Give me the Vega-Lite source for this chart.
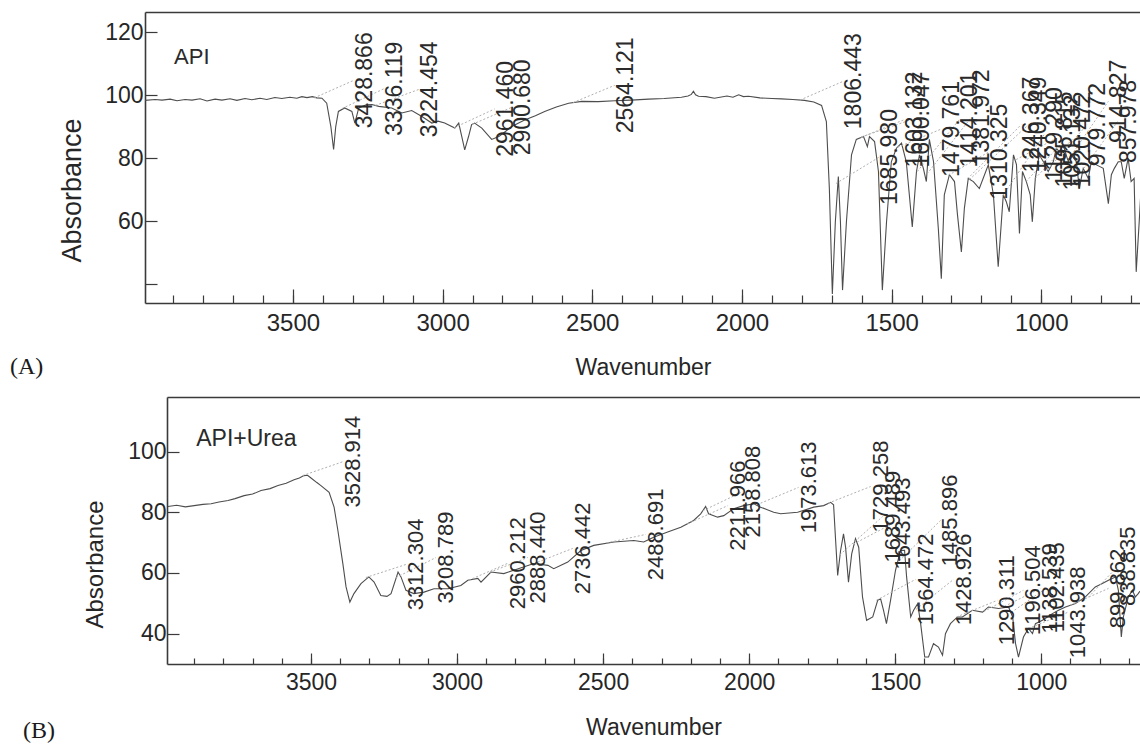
{
  "$schema": "https://vega.github.io/schema/vega-lite/v6.json",
  "padding": {"left": 10, "top": 12, "right": 0, "bottom": 0},
  "background": "white",
  "config": {
    "view": {"stroke": null},
    "axis": {"grid": false, "labelFont": "Liberation Sans", "titleFont": "Liberation Sans", "labelColor": "#262626", "titleColor": "#262626", "titleFontWeight": "normal", "domainColor": "#3a3a3a", "tickColor": "#3a3a3a", "domainWidth": 1.6, "tickWidth": 1.2, "labelOverlap": false},
    "text": {"font": "Liberation Sans", "color": "#2a2a2a"},
    "title": {"font": "Liberation Serif", "fontWeight": "normal", "color": "#1a1a1a", "fontSize": 24, "anchor": "start", "orient": "bottom"}
  },
  "spacing": 18,
  "vconcat": [
    {
      "spacing": 14,
      "hconcat": [
        {"width": 1, "height": 291, "data": {"values": [{"t": ""}]}, "mark": {"type": "text"}, "encoding": {"text": {"field": "t"}}, "title": {"text": "(A)", "orient": "bottom", "anchor": "start", "offset": 52}},
        {
          "width": 996, "height": 291,
          "resolve": {"axis": {"x": "independent"}},
          "layer": [
            {
              "data": {"name": "specA"},
              "mark": {"type": "line", "color": "#4d4d4d", "strokeWidth": 1.1, "clip": true},
              "encoding": {
                "x": {"field": "wn", "type": "quantitative", "scale": {"domain": [3994, 667], "nice": false, "zero": false},
                  "axis": {"orient": "bottom", "values": [3500, 3000, 2500, 2000, 1500, 1000], "format": "d", "tickSize": -14, "labelFontSize": 24, "labelPadding": 22, "title": "Wavenumber", "titleFontSize": 23, "titlePadding": 21}},
                "y": {"field": "v", "type": "quantitative", "title": "Absorbance", "scale": {"domain": [34, 126.5], "nice": false, "zero": false},
                  "axis": {"values": [40, 60, 80, 100, 120], "format": "d", "tickSize": -12, "labelFontSize": 23, "labelPadding": 14, "labelExpr": "datum.value == 40 ? '' : datum.label", "title": "Absorbance", "titleFontSize": 27, "titlePadding": 18, "titleY": 178}}
              }
            },
            {
              "data": {"name": "labA"},
              "mark": {"type": "rule", "color": "#b0b0b0", "strokeWidth": 1, "strokeDash": [2, 2], "clip": true},
              "encoding": {
                "x": {"field": "wn", "type": "quantitative", "scale": {"domain": [3994, 667], "nice": false, "zero": false},
                  "axis": {"orient": "bottom", "values": [3900, 3800, 3700, 3600, 3500, 3400, 3300, 3200, 3100, 3000, 2900, 2800, 2700, 2600, 2500, 2400, 2300, 2200, 2100, 2000, 1900, 1800, 1700, 1600, 1500, 1400, 1300, 1200, 1100, 1000, 900, 800, 700], "tickSize": -8, "labels": false, "domain": false, "title": null}},
                "x2": {"field": "lx"},
                "y": {"field": "yp", "type": "quantitative", "title": "Absorbance", "scale": {"domain": [34, 126.5], "nice": false, "zero": false},
                  "axis": {"values": [40, 60, 80, 100, 120], "format": "d", "tickSize": -12, "labelFontSize": 23, "labelPadding": 14, "labelExpr": "datum.value == 40 ? '' : datum.label", "title": "Absorbance", "titleFontSize": 27, "titlePadding": 18, "titleY": 178}},
                "y2": {"field": "ly"}
              }
            },
            {
              "data": {"name": "labA"},
              "mark": {"type": "text", "angle": 270, "align": "center", "baseline": "top", "fontSize": 23, "clip": true},
              "encoding": {
                "x": {"field": "lx", "type": "quantitative", "scale": {"domain": [3994, 667], "nice": false, "zero": false},
                  "axis": {"orient": "top", "ticks": false, "labels": false, "domain": true, "title": null}},
                "y": {"field": "ly", "type": "quantitative", "title": "Absorbance", "scale": {"domain": [34, 126.5], "nice": false, "zero": false},
                  "axis": {"values": [40, 60, 80, 100, 120], "format": "d", "tickSize": -12, "labelFontSize": 23, "labelPadding": 14, "labelExpr": "datum.value == 40 ? '' : datum.label", "title": "Absorbance", "titleFontSize": 27, "titlePadding": 18, "titleY": 178}},
                "text": {"field": "label"}
              }
            },
            {
              "data": {"name": "nameA"},
              "mark": {"type": "text", "align": "left", "baseline": "alphabetic", "fontSize": 22},
              "encoding": {
                "x": {"field": "wn", "type": "quantitative", "scale": {"domain": [3994, 667], "nice": false, "zero": false}, "axis": null},
                "y": {"field": "v", "type": "quantitative", "title": "Absorbance", "scale": {"domain": [34, 126.5], "nice": false, "zero": false},
                  "axis": {"values": [40, 60, 80, 100, 120], "format": "d", "tickSize": -12, "labelFontSize": 23, "labelPadding": 14, "labelExpr": "datum.value == 40 ? '' : datum.label", "title": "Absorbance", "titleFontSize": 27, "titlePadding": 18, "titleY": 178}},
                "text": {"field": "name"}
              }
            }
          ]
        }
      ]
    },
    {
      "spacing": 28,
      "hconcat": [
        {"width": 1, "height": 267, "data": {"values": [{"t": ""}]}, "mark": {"type": "text"}, "encoding": {"text": {"field": "t"}}, "title": {"text": "(B)", "orient": "bottom", "anchor": "start", "offset": 55, "dx": 13}},
        {
          "width": 973, "height": 267,
          "resolve": {"axis": {"x": "independent"}},
          "layer": [
            {
              "data": {"name": "specB"},
              "mark": {"type": "line", "color": "#4d4d4d", "strokeWidth": 1.1, "clip": true},
              "encoding": {
                "x": {"field": "wn", "type": "quantitative", "scale": {"domain": [3993, 662], "nice": false, "zero": false},
                  "axis": {"orient": "bottom", "values": [3500, 3000, 2500, 2000, 1500, 1000], "format": "d", "tickSize": -11, "labelFontSize": 23, "labelPadding": 18, "title": "Wavenumber", "titleFontSize": 23, "titlePadding": 22}},
                "y": {"field": "v", "type": "quantitative", "title": "Absorbance", "scale": {"domain": [30, 118], "nice": false, "zero": false},
                  "axis": {"values": [40, 60, 80, 100], "format": "d", "tickSize": -12, "labelFontSize": 23, "labelPadding": 13, "title": "Absorbance", "titleFontSize": 24, "titlePadding": 20, "titleY": 167}}
              }
            },
            {
              "data": {"name": "labB"},
              "mark": {"type": "rule", "color": "#b0b0b0", "strokeWidth": 1, "strokeDash": [2, 2], "clip": true},
              "encoding": {
                "x": {"field": "wn", "type": "quantitative", "scale": {"domain": [3993, 662], "nice": false, "zero": false},
                  "axis": {"orient": "bottom", "values": [3900, 3800, 3700, 3600, 3500, 3400, 3300, 3200, 3100, 3000, 2900, 2800, 2700, 2600, 2500, 2400, 2300, 2200, 2100, 2000, 1900, 1800, 1700, 1600, 1500, 1400, 1300, 1200, 1100, 1000, 900, 800, 700], "tickSize": -6, "labels": false, "domain": false, "title": null}},
                "x2": {"field": "lx"},
                "y": {"field": "yp", "type": "quantitative", "title": "Absorbance", "scale": {"domain": [30, 118], "nice": false, "zero": false},
                  "axis": {"values": [40, 60, 80, 100], "format": "d", "tickSize": -12, "labelFontSize": 23, "labelPadding": 13, "title": "Absorbance", "titleFontSize": 24, "titlePadding": 20, "titleY": 167}},
                "y2": {"field": "ly"}
              }
            },
            {
              "data": {"name": "labB"},
              "mark": {"type": "text", "angle": 270, "align": "center", "baseline": "top", "fontSize": 22, "clip": true},
              "encoding": {
                "x": {"field": "lx", "type": "quantitative", "scale": {"domain": [3993, 662], "nice": false, "zero": false},
                  "axis": {"orient": "top", "ticks": false, "labels": false, "domain": true, "title": null}},
                "y": {"field": "ly", "type": "quantitative", "title": "Absorbance", "scale": {"domain": [30, 118], "nice": false, "zero": false},
                  "axis": {"values": [40, 60, 80, 100], "format": "d", "tickSize": -12, "labelFontSize": 23, "labelPadding": 13, "title": "Absorbance", "titleFontSize": 24, "titlePadding": 20, "titleY": 167}},
                "text": {"field": "label"}
              }
            },
            {
              "data": {"name": "nameB"},
              "mark": {"type": "text", "align": "left", "baseline": "alphabetic", "fontSize": 23},
              "encoding": {
                "x": {"field": "wn", "type": "quantitative", "scale": {"domain": [3993, 662], "nice": false, "zero": false}, "axis": null},
                "y": {"field": "v", "type": "quantitative", "title": "Absorbance", "scale": {"domain": [30, 118], "nice": false, "zero": false},
                  "axis": {"values": [40, 60, 80, 100], "format": "d", "tickSize": -12, "labelFontSize": 23, "labelPadding": 13, "title": "Absorbance", "titleFontSize": 24, "titlePadding": 20, "titleY": 167}},
                "text": {"field": "name"}
              }
            }
          ]
        }
      ]
    }
  ],
  "datasets": {
    "nameA": [{"name": "API", "wn": 3897, "v": 109.9}],
    "nameB": [{"name": "API+Urea", "wn": 3893, "v": 102}],
    "specA": [
      {"wn": 3994, "v": 98.4}, {"wn": 3960, "v": 98.7}, {"wn": 3937, "v": 98.5}, {"wn": 3910, "v": 98.8}, {"wn": 3887, "v": 98.3}, {"wn": 3860, "v": 98.7}, {"wn": 3837, "v": 98.5}, {"wn": 3810, "v": 98.9}, {"wn": 3787, "v": 98.2}, {"wn": 3760, "v": 98.8}, {"wn": 3737, "v": 98.5}, {"wn": 3710, "v": 98.9}, {"wn": 3687, "v": 98.4}, {"wn": 3660, "v": 99.0}, {"wn": 3637, "v": 98.6}, {"wn": 3610, "v": 99.1}, {"wn": 3587, "v": 98.7}, {"wn": 3560, "v": 99.3}, {"wn": 3537, "v": 99.0}, {"wn": 3510, "v": 99.4}, {"wn": 3487, "v": 99.1}, {"wn": 3470, "v": 99.6}, {"wn": 3453, "v": 99.3}, {"wn": 3435, "v": 99.6}, {"wn": 3420, "v": 99.2}, {"wn": 3403, "v": 99.1}, {"wn": 3387, "v": 97.5}, {"wn": 3373, "v": 90}, {"wn": 3364, "v": 82.8}, {"wn": 3357, "v": 90}, {"wn": 3348, "v": 94.9}, {"wn": 3327, "v": 96}, {"wn": 3303, "v": 94.9}, {"wn": 3293, "v": 91.2}, {"wn": 3280, "v": 96}, {"wn": 3255, "v": 97.0}, {"wn": 3236, "v": 97.1}, {"wn": 3213, "v": 96.5}, {"wn": 3170, "v": 96}, {"wn": 3136, "v": 94.4}, {"wn": 3103, "v": 95.2}, {"wn": 3069, "v": 93.3}, {"wn": 3036, "v": 91.2}, {"wn": 3015, "v": 91.8}, {"wn": 2993, "v": 91.2}, {"wn": 2959, "v": 89.6}, {"wn": 2946, "v": 91.2}, {"wn": 2936, "v": 87}, {"wn": 2926, "v": 82.7}, {"wn": 2913, "v": 87}, {"wn": 2903, "v": 90.7}, {"wn": 2893, "v": 91.2}, {"wn": 2869, "v": 89.6}, {"wn": 2836, "v": 86.0}, {"wn": 2812, "v": 86.9}, {"wn": 2790, "v": 88.5}, {"wn": 2769, "v": 90.1}, {"wn": 2726, "v": 92.2}, {"wn": 2690, "v": 93.5}, {"wn": 2659, "v": 94.9}, {"wn": 2620, "v": 96.3}, {"wn": 2579, "v": 97.5}, {"wn": 2535, "v": 98.1}, {"wn": 2480, "v": 98.0}, {"wn": 2425, "v": 98.3}, {"wn": 2370, "v": 98.5}, {"wn": 2312, "v": 98.8}, {"wn": 2260, "v": 99.0}, {"wn": 2202, "v": 99.4}, {"wn": 2180, "v": 99.8}, {"wn": 2169, "v": 100.3}, {"wn": 2162, "v": 101.3}, {"wn": 2155, "v": 100.2}, {"wn": 2145, "v": 99.7}, {"wn": 2120, "v": 99.6}, {"wn": 2092, "v": 99.1}, {"wn": 2050, "v": 99.8}, {"wn": 2030, "v": 99.4}, {"wn": 2011, "v": 100.2}, {"wn": 1995, "v": 99.6}, {"wn": 1978, "v": 99.7}, {"wn": 1940, "v": 99.2}, {"wn": 1900, "v": 99.0}, {"wn": 1868, "v": 98.9}, {"wn": 1830, "v": 98.7}, {"wn": 1791, "v": 98.4}, {"wn": 1760, "v": 97.9}, {"wn": 1734, "v": 96.8}, {"wn": 1718, "v": 91.7}, {"wn": 1708, "v": 70.4}, {"wn": 1698, "v": 36.9}, {"wn": 1688, "v": 59.8}, {"wn": 1678, "v": 74.2}, {"wn": 1671, "v": 59.8}, {"wn": 1664, "v": 38.1}, {"wn": 1651, "v": 59.8}, {"wn": 1634, "v": 81.1}, {"wn": 1618, "v": 86}, {"wn": 1594, "v": 86.9}, {"wn": 1581, "v": 83.7}, {"wn": 1574, "v": 86.9}, {"wn": 1557, "v": 85.3}, {"wn": 1544, "v": 75.8}, {"wn": 1531, "v": 38.1}, {"wn": 1517, "v": 59.8}, {"wn": 1501, "v": 78.9}, {"wn": 1484, "v": 83.2}, {"wn": 1467, "v": 84.8}, {"wn": 1451, "v": 78.9}, {"wn": 1431, "v": 58.2}, {"wn": 1417, "v": 75.8}, {"wn": 1407, "v": 81.1}, {"wn": 1394, "v": 76.8}, {"wn": 1384, "v": 72.6}, {"wn": 1374, "v": 86}, {"wn": 1360, "v": 78.9}, {"wn": 1344, "v": 57.7}, {"wn": 1334, "v": 41.7}, {"wn": 1324, "v": 68.4}, {"wn": 1307, "v": 74.8}, {"wn": 1290, "v": 72.6}, {"wn": 1280, "v": 62}, {"wn": 1267, "v": 50.2}, {"wn": 1257, "v": 64.1}, {"wn": 1244, "v": 73.6}, {"wn": 1227, "v": 72.6}, {"wn": 1207, "v": 70.4}, {"wn": 1177, "v": 77.9}, {"wn": 1160, "v": 68.4}, {"wn": 1144, "v": 45.5}, {"wn": 1127, "v": 68.4}, {"wn": 1117, "v": 66.2}, {"wn": 1107, "v": 63}, {"wn": 1093, "v": 81.1}, {"wn": 1083, "v": 78}, {"wn": 1073, "v": 56.1}, {"wn": 1063, "v": 75.8}, {"wn": 1050, "v": 72.6}, {"wn": 1037, "v": 68.4}, {"wn": 1030, "v": 59.8}, {"wn": 1020, "v": 73.6}, {"wn": 1007, "v": 81.1}, {"wn": 993, "v": 78.9}, {"wn": 977, "v": 75.8}, {"wn": 960, "v": 78.9}, {"wn": 950, "v": 83.2}, {"wn": 940, "v": 82.1}, {"wn": 927, "v": 84.3}, {"wn": 910, "v": 78.9}, {"wn": 900, "v": 81.1}, {"wn": 883, "v": 78.9}, {"wn": 873, "v": 70.4}, {"wn": 860, "v": 76.8}, {"wn": 843, "v": 73.6}, {"wn": 833, "v": 78.9}, {"wn": 816, "v": 77.9}, {"wn": 793, "v": 76.8}, {"wn": 776, "v": 65.6}, {"wn": 766, "v": 74.8}, {"wn": 756, "v": 76.8}, {"wn": 743, "v": 78.9}, {"wn": 733, "v": 78.9}, {"wn": 723, "v": 73.6}, {"wn": 710, "v": 80}, {"wn": 700, "v": 72.6}, {"wn": 690, "v": 73.6}, {"wn": 683, "v": 43.9}, {"wn": 673, "v": 59.8}, {"wn": 667, "v": 70}
    ],
    "labA": [
      {"label": "3428.866", "wn": 3428.866, "yp": 99.2, "lx": 3296, "ly": 104.8},
      {"label": "3336.119", "wn": 3336.119, "yp": 95.8, "lx": 3196, "ly": 102.1},
      {"label": "3224.454", "wn": 3224.454, "yp": 96.8, "lx": 3079, "ly": 101.9},
      {"label": "2961.460", "wn": 2961.46, "yp": 89.7, "lx": 2826, "ly": 95.7},
      {"label": "2900.680", "wn": 2900.68, "yp": 90.8, "lx": 2769, "ly": 96.2},
      {"label": "2564.121", "wn": 2564.121, "yp": 97.7, "lx": 2425, "ly": 103.2},
      {"label": "1806.443", "wn": 1806.443, "yp": 98.5, "lx": 1661, "ly": 104.5},
      {"label": "1685.980", "wn": 1685.98, "yp": 72, "lx": 1541, "ly": 80.4},
      {"label": "1603.132", "wn": 1603.132, "yp": 86.6, "lx": 1457, "ly": 92.3},
      {"label": "1600.047", "wn": 1600.047, "yp": 86.8, "lx": 1434, "ly": 92.3},
      {"label": "1479.761", "wn": 1479.761, "yp": 83.5, "lx": 1334, "ly": 89.3},
      {"label": "1414.201", "wn": 1414.201, "yp": 75.8, "lx": 1274, "ly": 92.3},
      {"label": "1381.972", "wn": 1381.972, "yp": 75, "lx": 1234, "ly": 93},
      {"label": "1310.325", "wn": 1310.325, "yp": 74.6, "lx": 1174, "ly": 82.1},
      {"label": "1246.367", "wn": 1246.367, "yp": 73.5, "lx": 1067, "ly": 90.7},
      {"label": "1240.349", "wn": 1240.349, "yp": 73.2, "lx": 1043, "ly": 90.7},
      {"label": "1129.290", "wn": 1129.29, "yp": 68, "lx": 990, "ly": 87.6},
      {"label": "1095.815", "wn": 1095.815, "yp": 79, "lx": 957, "ly": 86},
      {"label": "1051.132", "wn": 1051.132, "yp": 72.6, "lx": 930, "ly": 85},
      {"label": "1020.472", "wn": 1020.472, "yp": 73.6, "lx": 897, "ly": 86},
      {"label": "979.772", "wn": 979.772, "yp": 76.3, "lx": 847, "ly": 90.7},
      {"label": "914.827", "wn": 914.827, "yp": 78.9, "lx": 776, "ly": 98.1},
      {"label": "857.978", "wn": 857.978, "yp": 76.8, "lx": 745, "ly": 91.7}
    ],
    "specB": [
      {"wn": 3990, "v": 81.9}, {"wn": 3960, "v": 82.3}, {"wn": 3930, "v": 81.8}, {"wn": 3900, "v": 82.2}, {"wn": 3870, "v": 82.6}, {"wn": 3842, "v": 82.8}, {"wn": 3815, "v": 83.4}, {"wn": 3784, "v": 83.9}, {"wn": 3760, "v": 84.5}, {"wn": 3729, "v": 85.5}, {"wn": 3700, "v": 86.0}, {"wn": 3671, "v": 87.2}, {"wn": 3640, "v": 87.8}, {"wn": 3613, "v": 88.8}, {"wn": 3585, "v": 89.6}, {"wn": 3558, "v": 90.7}, {"wn": 3540, "v": 91.3}, {"wn": 3524, "v": 92.1}, {"wn": 3512, "v": 92.2}, {"wn": 3500, "v": 91.3}, {"wn": 3480, "v": 89.8}, {"wn": 3466, "v": 88.8}, {"wn": 3438, "v": 86.6}, {"wn": 3421, "v": 81.7}, {"wn": 3408, "v": 74}, {"wn": 3391, "v": 63.1}, {"wn": 3380, "v": 55.4}, {"wn": 3367, "v": 50.4}, {"wn": 3353, "v": 53.2}, {"wn": 3329, "v": 56.5}, {"wn": 3302, "v": 58.7}, {"wn": 3284, "v": 57}, {"wn": 3261, "v": 52.6}, {"wn": 3240, "v": 52.3}, {"wn": 3226, "v": 53.2}, {"wn": 3202, "v": 60.3}, {"wn": 3192, "v": 58.7}, {"wn": 3175, "v": 54.3}, {"wn": 3148, "v": 53.2}, {"wn": 3113, "v": 53.7}, {"wn": 3079, "v": 54.8}, {"wn": 3031, "v": 54.8}, {"wn": 2987, "v": 55.9}, {"wn": 2963, "v": 57.6}, {"wn": 2929, "v": 58.2}, {"wn": 2918, "v": 57}, {"wn": 2884, "v": 60.3}, {"wn": 2840, "v": 59.8}, {"wn": 2806, "v": 60.9}, {"wn": 2737, "v": 63.1}, {"wn": 2689, "v": 62.5}, {"wn": 2669, "v": 61.4}, {"wn": 2621, "v": 63.6}, {"wn": 2576, "v": 67.4}, {"wn": 2532, "v": 69.1}, {"wn": 2463, "v": 70.2}, {"wn": 2395, "v": 70.7}, {"wn": 2361, "v": 70.2}, {"wn": 2327, "v": 71.8}, {"wn": 2279, "v": 73.5}, {"wn": 2234, "v": 75.1}, {"wn": 2190, "v": 77.3}, {"wn": 2166, "v": 79.5}, {"wn": 2149, "v": 81.9}, {"wn": 2139, "v": 79.5}, {"wn": 2108, "v": 78.4}, {"wn": 2087, "v": 78.9}, {"wn": 2053, "v": 81.2}, {"wn": 2019, "v": 82.2}, {"wn": 1984, "v": 82.8}, {"wn": 1961, "v": 81.7}, {"wn": 1916, "v": 80}, {"wn": 1892, "v": 79.5}, {"wn": 1834, "v": 80}, {"wn": 1779, "v": 81.7}, {"wn": 1745, "v": 82.2}, {"wn": 1721, "v": 83.3}, {"wn": 1711, "v": 82.5}, {"wn": 1704, "v": 70.7}, {"wn": 1697, "v": 59.2}, {"wn": 1687, "v": 67.4}, {"wn": 1677, "v": 72.9}, {"wn": 1670, "v": 68.5}, {"wn": 1660, "v": 57}, {"wn": 1649, "v": 66.3}, {"wn": 1636, "v": 71.3}, {"wn": 1625, "v": 68.5}, {"wn": 1612, "v": 52.1}, {"wn": 1598, "v": 44.4}, {"wn": 1577, "v": 45.5}, {"wn": 1560, "v": 51}, {"wn": 1550, "v": 51.5}, {"wn": 1540, "v": 47.7}, {"wn": 1530, "v": 43.3}, {"wn": 1516, "v": 51}, {"wn": 1499, "v": 60.9}, {"wn": 1482, "v": 67.4}, {"wn": 1468, "v": 67.5}, {"wn": 1461, "v": 58.7}, {"wn": 1447, "v": 45.5}, {"wn": 1437, "v": 47.7}, {"wn": 1423, "v": 49.9}, {"wn": 1413, "v": 43.3}, {"wn": 1399, "v": 32.3}, {"wn": 1386, "v": 32.3}, {"wn": 1369, "v": 36.7}, {"wn": 1352, "v": 35.6}, {"wn": 1338, "v": 32.9}, {"wn": 1328, "v": 40}, {"wn": 1311, "v": 43.3}, {"wn": 1287, "v": 45.5}, {"wn": 1270, "v": 45.5}, {"wn": 1236, "v": 47.7}, {"wn": 1201, "v": 47.1}, {"wn": 1181, "v": 48.8}, {"wn": 1146, "v": 48.3}, {"wn": 1112, "v": 48.8}, {"wn": 1098, "v": 45.5}, {"wn": 1088, "v": 36.7}, {"wn": 1078, "v": 32.3}, {"wn": 1061, "v": 38.9}, {"wn": 1044, "v": 41.7}, {"wn": 1030, "v": 40}, {"wn": 1020, "v": 43.3}, {"wn": 996, "v": 44.4}, {"wn": 979, "v": 45.5}, {"wn": 962, "v": 46.6}, {"wn": 941, "v": 47.7}, {"wn": 917, "v": 48.8}, {"wn": 883, "v": 49.9}, {"wn": 849, "v": 52.1}, {"wn": 815, "v": 55.4}, {"wn": 791, "v": 56.5}, {"wn": 770, "v": 57.6}, {"wn": 746, "v": 58.7}, {"wn": 736, "v": 54.3}, {"wn": 726, "v": 38.9}, {"wn": 719, "v": 45.5}, {"wn": 702, "v": 52.1}, {"wn": 688, "v": 54.3}, {"wn": 678, "v": 52.1}, {"wn": 668, "v": 53.2}, {"wn": 662, "v": 54}
    ],
    "labB": [
      {"label": "3528.914", "wn": 3528.914, "yp": 92.1, "lx": 3390, "ly": 96.7},
      {"label": "3312.304", "wn": 3312.304, "yp": 58.5, "lx": 3175, "ly": 62.8},
      {"label": "3208.789", "wn": 3208.789, "yp": 58.5, "lx": 3072, "ly": 65.1},
      {"label": "2960.212", "wn": 2960.212, "yp": 57.6, "lx": 2826, "ly": 63.2},
      {"label": "2888.440", "wn": 2888.44, "yp": 60.2, "lx": 2758, "ly": 65.1},
      {"label": "2736.442", "wn": 2736.442, "yp": 63.1, "lx": 2604, "ly": 68.1},
      {"label": "2488.691", "wn": 2488.691, "yp": 69.9, "lx": 2354, "ly": 72.7},
      {"label": "2211.966", "wn": 2211.966, "yp": 76.2, "lx": 2073, "ly": 82.2},
      {"label": "2158.808", "wn": 2158.808, "yp": 80.5, "lx": 2022, "ly": 86.8},
      {"label": "1973.613", "wn": 1973.613, "yp": 82.5, "lx": 1831, "ly": 88.2},
      {"label": "1729.258", "wn": 1729.258, "yp": 83, "lx": 1584, "ly": 88.5},
      {"label": "1689.489", "wn": 1689.489, "yp": 66, "lx": 1543, "ly": 78.6},
      {"label": "1643.493", "wn": 1643.493, "yp": 69.5, "lx": 1509, "ly": 76.3},
      {"label": "1564.472", "wn": 1564.472, "yp": 51, "lx": 1430, "ly": 57.9},
      {"label": "1485.896", "wn": 1485.896, "yp": 64, "lx": 1345, "ly": 77.3},
      {"label": "1428.926", "wn": 1428.926, "yp": 48, "lx": 1300, "ly": 57.9},
      {"label": "1290.311", "wn": 1290.311, "yp": 45.5, "lx": 1150, "ly": 51},
      {"label": "1196.504", "wn": 1196.504, "yp": 47.3, "lx": 1061, "ly": 54.3},
      {"label": "1138.539", "wn": 1138.539, "yp": 48.4, "lx": 1003, "ly": 54.9},
      {"label": "1102.435", "wn": 1102.435, "yp": 47, "lx": 979, "ly": 55.3},
      {"label": "1043.938", "wn": 1043.938, "yp": 41.7, "lx": 910, "ly": 47},
      {"label": "899.862", "wn": 899.862, "yp": 49.4, "lx": 770, "ly": 54.9},
      {"label": "838.835", "wn": 838.835, "yp": 52, "lx": 738, "ly": 62.2}
    ]
  }
}
